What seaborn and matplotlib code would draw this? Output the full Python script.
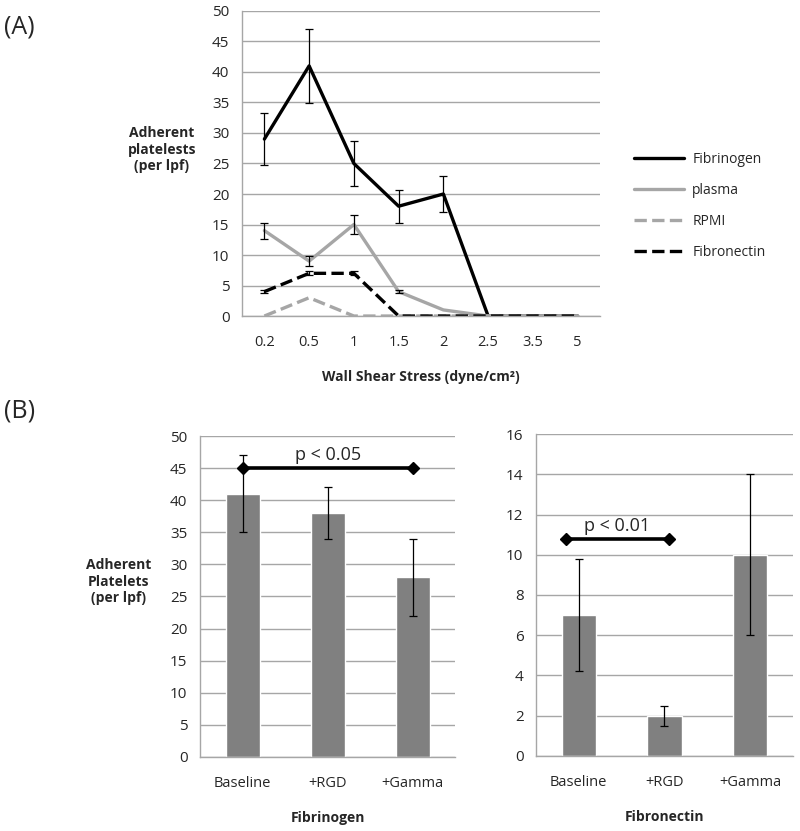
import matplotlib
matplotlib.use('Agg')
import matplotlib.pyplot as plt
import seaborn as sns
import pandas as pd
import numpy as np

# Panel A data
shear = ['0.2', '0.5', '1', '1.5', '2', '2.5', '3.5', '5']
fibrinogen = [29, 41, 25, 18, 20, 0, 0, 0]
fibrinogen_err = [4.3, 6.1, 3.7, 2.7, 3.0, 0, 0, 0]
plasma = [14, 9, 15, 4, 1, 0, 0, 0]
plasma_err = [1.3, 0.8, 1.5, 0.3, 0, 0, 0, 0]
rpmi = [0, 3, 0, 0, 0, 0, 0, 0]
rpmi_err = [0, 0.2, 0, 0, 0, 0, 0, 0]
fibronectin = [4, 7, 7, 0, 0, 0, 0, 0]
fibronectin_err = [0.3, 0.3, 0.3, 0, 0, 0, 0, 0]

# Panel B data
conditions = ['Baseline', '+RGD', '+Gamma']
fbg_bars = [41, 38, 28]
fbg_bars_err = [6, 4, 6]
fn_bars = [7, 2, 10]
fn_bars_err = [2.8, 0.5, 4]

sns.set_style('white')
plt.rcParams['font.family'] = ['Open Sans', 'DejaVu Sans']

GRID = '#a6a6a6'
BAR = '#808080'

fig = plt.figure(figsize=(8, 8.31), dpi=100)


def excel_axes(ax, n):
    ax.set_xlim(-0.5, n - 0.5)
    ax.yaxis.grid(True, color=GRID, linewidth=1.0)
    ax.set_axisbelow(True)
    for s in ['top', 'right']:
        ax.spines[s].set_visible(False)
    for s in ['left', 'bottom']:
        ax.spines[s].set_color(GRID)
        ax.spines[s].set_linewidth(1.0)
    ax.set_xticks(range(n))
    ax.set_xticks(np.arange(-0.5, n, 1.0), minor=True)
    ax.tick_params(axis='x', which='major', length=0, pad=14, labelsize=10.5)
    ax.tick_params(axis='x', which='minor', length=5, color=GRID, direction='out')
    ax.tick_params(axis='y', length=5, color=GRID, direction='out', labelsize=11, pad=4)


# ---- Panel A ----
axA = fig.add_axes([0.3025, 0.6197, 0.4475, 0.3671])
pos = np.arange(len(shear))
series = [
    ('Fibrinogen', fibrinogen, fibrinogen_err, 'black', '-'),
    ('plasma', plasma, plasma_err, '#a6a6a6', '-'),
    ('RPMI', rpmi, rpmi_err, '#a6a6a6', '--'),
    ('Fibronectin', fibronectin, fibronectin_err, 'black', '--'),
]
for name, vals, errs, col, ls in series:
    df = pd.DataFrame({'x': pos, 'y': vals})
    sns.lineplot(data=df, x='x', y='y', ax=axA, color=col, linestyle=ls,
                 linewidth=2.4, label=name)
for name, vals, errs, col, ls in series:
    e = np.array(errs)
    m = e > 0.25
    axA.errorbar(pos[m], np.array(vals)[m], yerr=e[m], fmt='none', ecolor='black',
                 elinewidth=0.9, capsize=3, capthick=0.9)
excel_axes(axA, len(shear))
axA.set_xticklabels(shear)
axA.set_ylim(0, 50)
axA.set_yticks(range(0, 51, 5))
axA.set_xlabel('Wall Shear Stress (dyne/cm²)', fontsize=10, fontweight='bold', labelpad=14)
axA.set_ylabel('')
fig.text(0.2025, 0.82, 'Adherent\nplatelests\n(per lpf)', ha='center', va='center',
         multialignment='center', fontsize=10, fontweight='bold', linespacing=1.25)
axA.legend(loc='center left', bbox_to_anchor=(1.06, 0.36), frameon=False,
           fontsize=10, handlelength=3.6, labelspacing=1.15, handletextpad=0.6)

# ---- Panel B left ----
axB1 = fig.add_axes([0.25, 0.0891, 0.319, 0.3862])
dfb1 = pd.DataFrame({'cond': conditions, 'val': fbg_bars})
sns.barplot(data=dfb1, x='cond', y='val', ax=axB1, color=BAR, width=0.4,
            saturation=1, errorbar=None)
axB1.errorbar(range(3), fbg_bars, yerr=fbg_bars_err, fmt='none', ecolor='black',
              elinewidth=0.9, capsize=3, capthick=0.9)
excel_axes(axB1, 3)
axB1.set_ylim(0, 50)
axB1.set_yticks(range(0, 51, 5))
axB1.set_xlabel('Fibrinogen', fontsize=10, fontweight='bold', labelpad=14)
axB1.set_ylabel('')
axB1.plot([0, 2], [45, 45], color='black', linewidth=2.6, marker='D', markersize=6)
axB1.text(1, 45.6, 'p < 0.05', ha='center', va='bottom', fontsize=13)
fig.text(0.148, 0.3, 'Adherent\nPlatelets\n(per lpf)', ha='center', va='center',
         multialignment='center', fontsize=10, fontweight='bold', linespacing=1.25)

# ---- Panel B right ----
axB2 = fig.add_axes([0.67, 0.0903, 0.321, 0.3874])
dfb2 = pd.DataFrame({'cond': conditions, 'val': fn_bars})
sns.barplot(data=dfb2, x='cond', y='val', ax=axB2, color=BAR, width=0.4,
            saturation=1, errorbar=None)
axB2.errorbar(range(3), fn_bars, yerr=fn_bars_err, fmt='none', ecolor='black',
              elinewidth=0.9, capsize=3, capthick=0.9)
excel_axes(axB2, 3)
axB2.set_ylim(0, 16)
axB2.set_yticks(range(0, 17, 2))
axB2.set_xlabel('Fibronectin', fontsize=10, fontweight='bold', labelpad=14)
axB2.set_ylabel('')
axB2.plot([-0.15, 1.05], [10.8, 10.8], color='black', linewidth=2.6, marker='D', markersize=6)
axB2.text(0.45, 11.0, 'p < 0.01', ha='center', va='bottom', fontsize=13)

fig.text(0.005, 0.967, '(A)', fontsize=18, va='center')
fig.text(0.005, 0.505, '(B)', fontsize=18, va='center')

fig.savefig('out.png', dpi=100)
